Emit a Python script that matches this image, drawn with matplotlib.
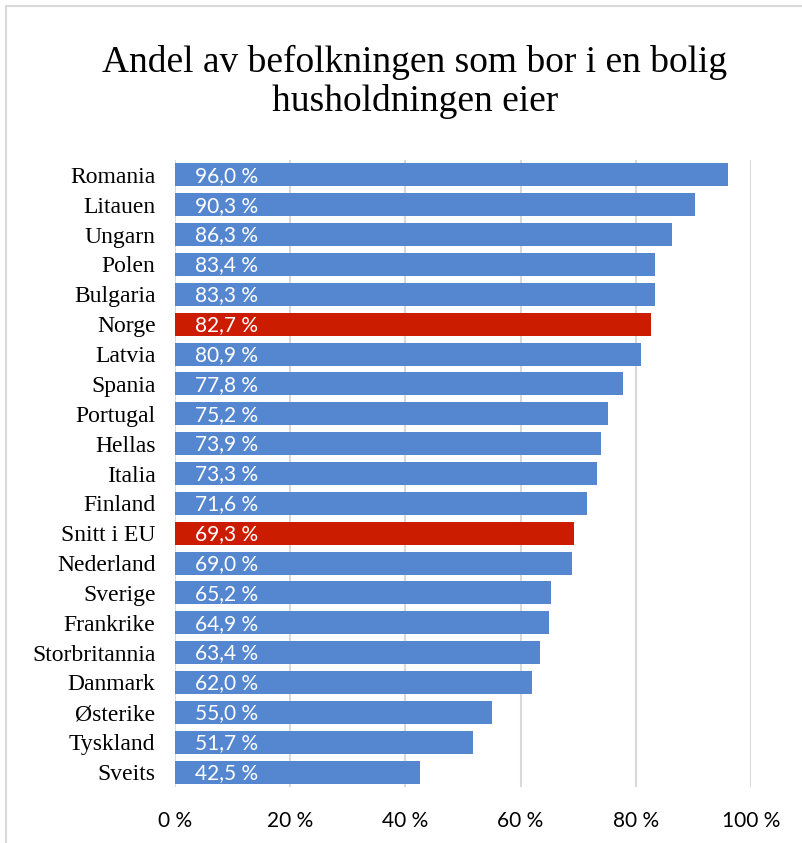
import matplotlib.pyplot as plt
from matplotlib.patches import Rectangle

countries = ["Romania", "Litauen", "Ungarn", "Polen", "Bulgaria", "Norge", "Latvia",
             "Spania", "Portugal", "Hellas", "Italia", "Finland", "Snitt i EU",
             "Nederland", "Sverige", "Frankrike", "Storbritannia", "Danmark",
             "Østerike", "Tyskland", "Sveits"]
shares = [96.0, 90.3, 86.3, 83.4, 83.3, 82.7, 80.9, 77.8, 75.2, 73.9, 73.3, 71.6,
          69.3, 69.0, 65.2, 64.9, 63.4, 62.0, 55.0, 51.7, 42.5]
highlight = ["Norge", "Snitt i EU"]
x_ticks = [0, 20, 40, 60, 80, 100]

BLUE = "#5587D0"
RED = "#CC1C00"

fig = plt.figure(figsize=(8.02, 8.43), dpi=100)
fig.patches.append(Rectangle((6 / 802, -0.01), 1.0, 1 - 6 / 843 + 0.01,
                             transform=fig.transFigure, fill=False,
                             edgecolor="#d9d9d9", linewidth=1.5))
ax = fig.add_axes([175 / 802, 1 - 787 / 843, (751 - 175) / 802, (787 - 160) / 843])

ypos = list(range(len(countries)))
colors = [RED if c in highlight else BLUE for c in countries]
ax.barh(ypos, shares, height=0.77, color=colors, zorder=3)

for y, v in zip(ypos, shares):
    ax.text(3.5, y + 0.03, f"{v:.1f} %".replace(".", ","), color="white",
            va="center", ha="left", fontsize=15, family="Lato", zorder=4)

ax.set_xlim(0, 100)
ax.set_ylim(len(countries) - 0.5, -0.5)
ax.set_yticks(ypos)
ax.set_yticklabels(countries, family="Liberation Serif", fontsize=17)
ax.set_xticks(x_ticks)
ax.set_xticklabels([f"{t} %" for t in x_ticks], family="Lato", fontsize=15)
ax.tick_params(axis="y", length=0, pad=14)
ax.tick_params(axis="x", length=0, pad=17)
ax.grid(axis="x", color="#d9d9d9", linewidth=1.5, zorder=0)
for s in ax.spines.values():
    s.set_visible(False)

fig.text(415 / 802, 1 - 82 / 843, "Andel av befolkningen som bor i en bolig\nhusholdningen eier",
         ha="center", va="center", family="Liberation Serif", fontsize=27,
         linespacing=1.12)

fig.savefig("out.png", dpi=100)
